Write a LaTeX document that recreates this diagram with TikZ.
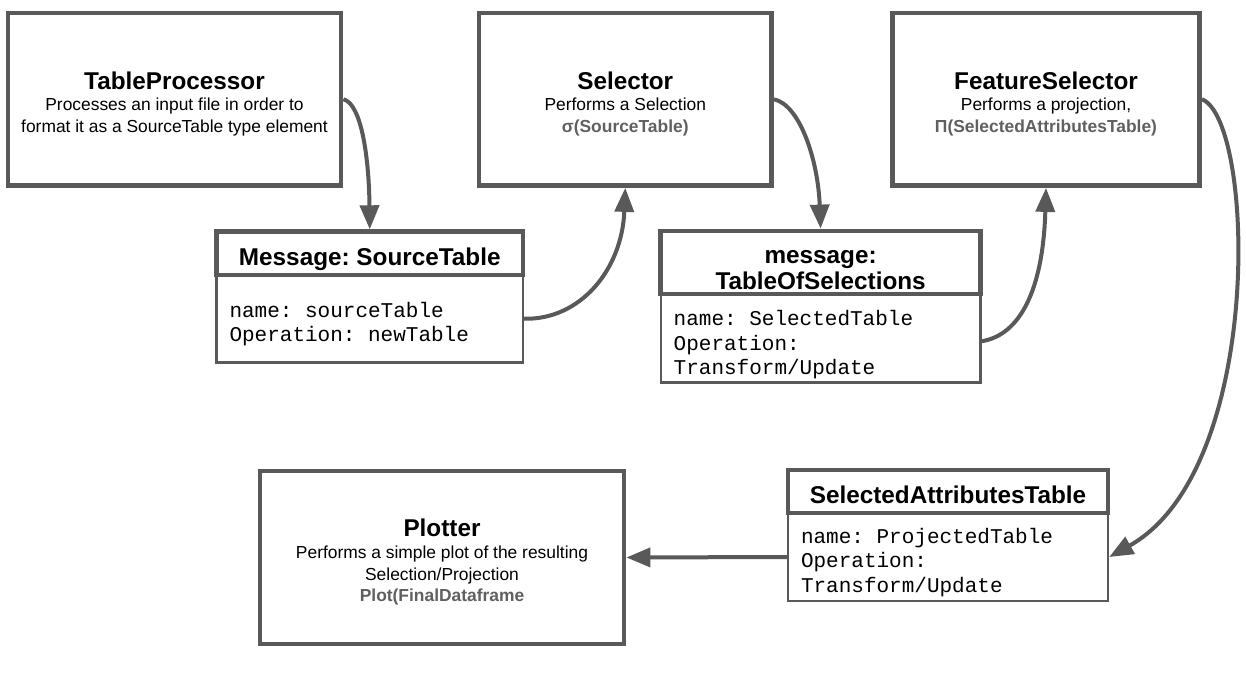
\documentclass[tikz,border=0pt]{standalone}
\usepackage{fontspec}
\setmainfont{Liberation Sans}
\setmonofont{Liberation Mono}
\usetikzlibrary{arrows.meta}
\definecolor{dg}{RGB}{89,89,89}
\definecolor{tg}{RGB}{96,96,96}
\newcommand{\ttl}{\fontsize{24.3}{26}\selectfont\bfseries}
\newcommand{\lift}[1]{\rule{0pt}{#1}}
\newcommand{\ms}{\hbox to 0.6em{}}
\DeclareRobustCommand{\monofnt}{\fontsize{21}{24.5}\selectfont\ttfamily}
\frenchspacing
\begin{document}
\begin{tikzpicture}[x=1pt,y=-1pt,
  bigbox/.style={draw=dg, line width=4.8pt, fill=white, align=center, inner sep=4pt,
    font=\frenchspacing\fontsize{17.4}{21.8}\selectfont},
  hdr/.style={draw=dg, line width=4.8pt, fill=white, align=center, inner sep=2pt,
    font=\frenchspacing\fontsize{24.3}{26}\selectfont\bfseries},
  bdy/.style={draw=dg, line width=2.4pt, fill=white, align=left, inner xsep=13pt,
    font=\frenchspacing\monofnt},
  conn/.style={draw=dg, line width=4pt, -{Triangle[length=24pt,width=19pt]}},
]
\useasboundingbox (0,0) rectangle (1246,684);
\fill[white] (0,0) rectangle (1246,684);

% main boxes
\node[bigbox, minimum width=333pt, minimum height=172.5pt] (tp) at (174.5,99.25)
  {{\ttl\lift{27pt}TableProcessor}\\ Processes an input file in order to\\ format it as a SourceTable type element};
\node[bigbox, minimum width=292.5pt, minimum height=172.5pt] (sel) at (625.25,99.25)
  {{\ttl\lift{27pt}Selector}\\ Performs a Selection\\ {\bfseries\color{tg}σ(SourceTable)}};
\node[bigbox, minimum width=307pt, minimum height=172.5pt] (fs) at (1046,99.25)
  {{\ttl\lift{27pt}FeatureSelector}\\ Performs a projection,\\ {\bfseries\color{tg}Π(SelectedAttributesTable)}};
\node[bigbox, minimum width=364pt, minimum height=173pt] (pl) at (442,557.5)
  {{\ttl\lift{27pt}Plotter}\\ Performs a simple plot of the resulting\\ Selection/Projection\\ {\bfseries\color{tg}Plot(FinalDataframe}};

% message boxes
\node[bdy, minimum width=306.5pt, minimum height=87.5pt, text width=280.5pt] (stb) at (369.75,318.75)
  {\lift{26pt}name:\ms sourceTable\\Operation:\ms newTable};
\node[hdr, minimum width=306.5pt, minimum height=43.3pt] (sth) at (369.75,253.35)
  {\lift{29pt}Message: SourceTable};

\node[bdy, minimum width=319.8pt, minimum height=88.5pt, text width=293.8pt] (tosb) at (820.6,338.25)
  {\lift{28pt}name:\ms SelectedTable\\Operation:\\Transform/Update};
\node[hdr, minimum width=319.8pt, minimum height=63pt] (tosh) at (820.6,262.5)
  {\lift{28pt}message:\\TableOfSelections};

\node[bdy, minimum width=320pt, minimum height=88pt, text width=294pt] (satb) at (948,557)
  {\lift{26pt}name:\ms ProjectedTable\\Operation:\\Transform/Update};
\node[hdr, minimum width=320pt, minimum height=43pt] (sath) at (948,491.5)
  {\lift{25pt}SelectedAttributesTable};

% connectors
\draw[conn] (tp.east) .. controls (362,104) and (369,160) .. (sth.north);
\draw[conn] (stb.east) .. controls (580,320) and (622,270) .. (sel.south);
\draw[conn] (sel.east) .. controls (800,105) and (818,160) .. (tosh.north);
\draw[conn] ([yshift=-3pt]tosb.east) .. controls (1020,335) and (1043,290) .. (fs.south);
\draw[conn] (fs.east) .. controls (1255,120) and (1265,470) .. (satb.east);
\draw[conn] (satb.west) -- (pl.east);
\end{tikzpicture}
\end{document}
